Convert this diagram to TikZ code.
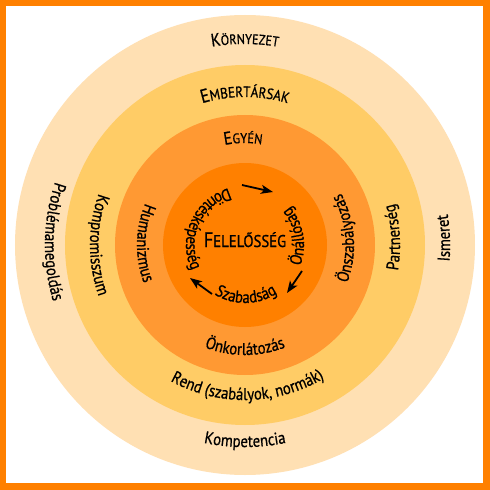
\documentclass[tikz,border=0pt]{standalone}
\usepackage{fontspec}
\setmainfont[FakeStretch=0.87,FakeBold=0.8]{PT Sans}
\usetikzlibrary{decorations.text,arrows.meta}
\definecolor{ringA}{HTML}{FFE0B3}
\definecolor{ringB}{HTML}{FFCC66}
\definecolor{ringC}{HTML}{FF9933}
\definecolor{ringD}{HTML}{FF8000}
\definecolor{frameor}{HTML}{FF8000}
\newcommand\txtf{\fontsize{17}{17}\selectfont}
\newcommand\capKa{\fontsize{18}{18}\selectfont}
\newcommand\capKb{\fontsize{14}{14}\selectfont}
\newcommand\capEa{\fontsize{19}{19}\selectfont}
\newcommand\capEb{\fontsize{15}{15}\selectfont}
% counter-clockwise text (tops towards centre)
\newcommand\myccw[3]{\path[decorate,decoration={text along path,text align=center,text={#3}}] (#1-80:#2pt) arc[start angle=#1-80,end angle=#1+80,radius=#2pt];}
% clockwise text (tops outwards)
\newcommand\mycw[3]{\path[decorate,decoration={text along path,text align=center,text={#3}}] (#1+80:#2pt) arc[start angle=#1+80,end angle=#1-80,radius=#2pt];}
\tikzset{arr/.style={line width=1.8pt,-{Stealth[length=12pt,width=9pt,inset=3pt]}}}
\begin{document}
\begin{tikzpicture}
\useasboundingbox (-245pt,-245pt) rectangle (245pt,245pt);
\fill[frameor] (-245pt,-245pt) rectangle (245pt,245pt);
\fill[white] (-238.5pt,-237.5pt) rectangle (238pt,238.5pt);
\fill[ringA] (0,0) circle[radius=230pt];
\fill[ringB] (0,0) circle[radius=180pt];
\fill[ringC] (0,0) circle[radius=130pt];
\fill[ringD] (0,0) circle[radius=82pt];
% centre
\node[anchor=base,inner sep=0pt] (fel) at (0,-2pt) {{\fontsize{21}{21}\selectfont F}{\fontsize{17}{17}\selectfont ELELŐSSÉG}};
% inner circle texts
\myccw{156}{59}{|\txtf|Döntésképesség}
\myccw{10}{59}{|\txtf|Önállóság}
\myccw{-89}{58}{|\txtf|Szabadság}
% arrows
\coordinate (a1s) at (-3pt,60pt);
\coordinate (a1e) at (28pt,53pt);
\coordinate (a2s) at (57pt,-26pt);
\coordinate (a2e) at (42pt,-48pt);
\coordinate (a3s) at (-33pt,-49pt);
\coordinate (a3e) at (-55pt,-33pt);
\draw[arr] (a1s) -- (a1e);
\draw[arr] (a2s) -- (a2e);
\draw[arr] (a3s) -- (a3e);
% ring C
\mycw{91}{102}{|\capKa|E|\capKb|GYÉN}
\myccw{179}{108}{|\txtf|Humanizmus}
\myccw{4}{109}{|\txtf|Önszabályozás}
\myccw{-90}{110}{|\txtf|Önkorlátozás}
% ring B
\mycw{90}{148}{|\capEa|E|\capEb|MBERTÁRSAK}
\myccw{180}{155}{|\txtf|Kompromisszum}
\myccw{3}{155}{|\txtf|Partnerség}
\myccw{-89}{155}{|\txtf|Rend (szabályok, normák)}
% ring A
\mycw{90}{201}{|\capKa|K|\capKb|ÖRNYEZET}
\myccw{179}{200}{|\txtf|Problémamegoldás}
\myccw{2}{205}{|\txtf|Ismeret}
\myccw{-90}{202}{|\txtf|Kompetencia}
\end{tikzpicture}
\end{document}
